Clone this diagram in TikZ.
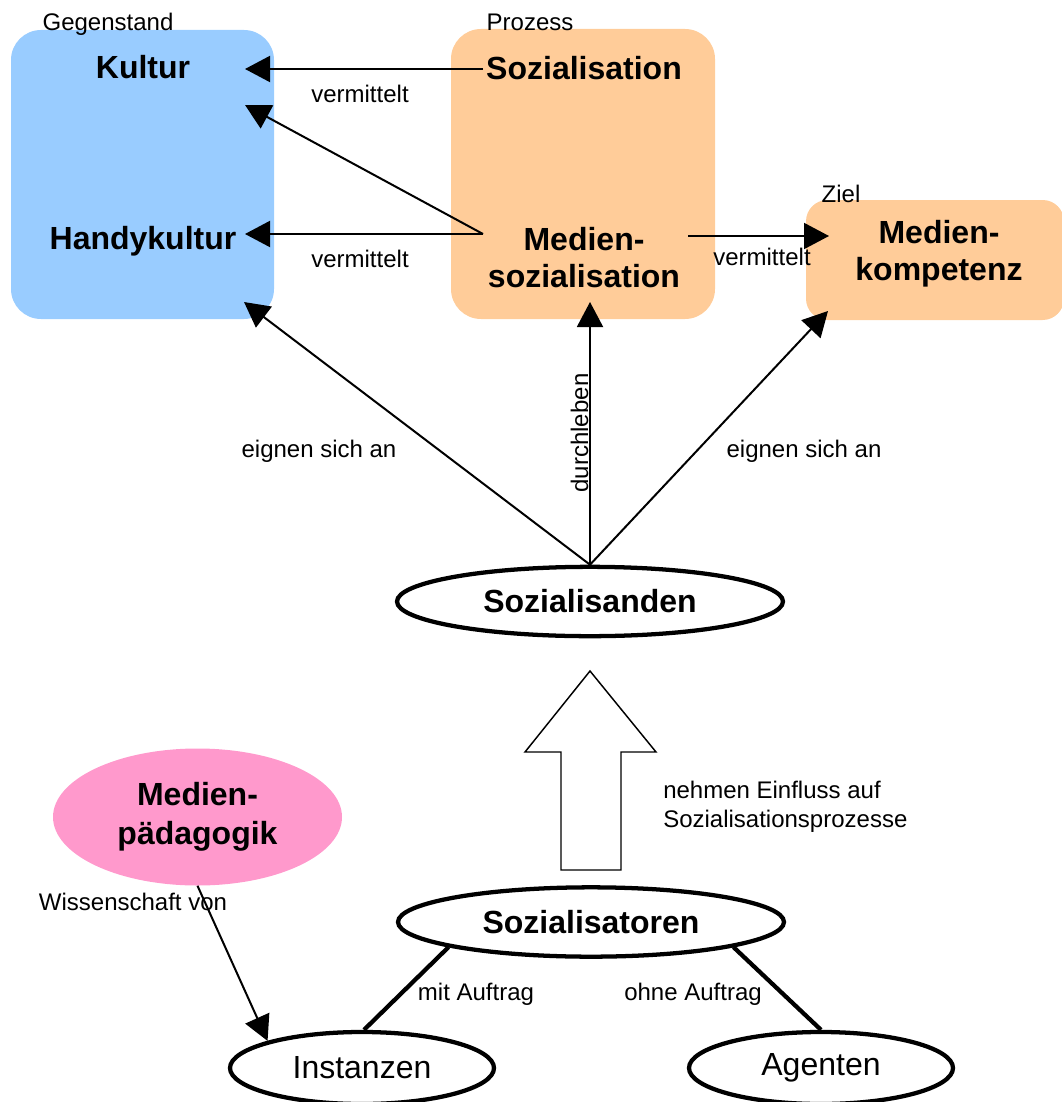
\documentclass[tikz,border=0pt]{standalone}
\usepackage{fontspec}
\setmainfont{Liberation Sans}
\usetikzlibrary{shapes.geometric,arrows.meta}
\definecolor{gblue}{HTML}{99CCFF}
\definecolor{porange}{HTML}{FFCC99}
\definecolor{mpink}{HTML}{FF99CC}
\begin{document}
\begin{tikzpicture}[x=0.75pt,y=-0.75pt,
  big/.style={font=\fontsize{24}{28}\selectfont\bfseries, inner sep=0pt},
  norm/.style={font=\fontsize{24}{28}\selectfont, inner sep=0pt},
  small/.style={font=\fontsize{18}{21.75}\selectfont, inner sep=0pt},
  area/.style={rounded corners=22.5pt, inner sep=0pt},
  oval/.style={ellipse, draw, line width=3.2pt, fill=white, inner sep=0pt,
               font=\fontsize{24}{28}\selectfont},
  arr/.style={line width=1.5pt, -{Triangle[length=18.75pt,width=19.5pt]}},
  heavyline/.style={line width=3.2pt}
]
\useasboundingbox (0,0) rectangle (1062,1102);

% areas
\node[area, fill=gblue, minimum width=197.25pt, minimum height=216.75pt] (boxG) at (142.5,174.5) {};
\node[area, fill=porange, minimum width=198pt, minimum height=217.5pt] (boxP) at (583,174) {};
\node[area, fill=porange, rounded corners=16pt, minimum width=193.5pt, minimum height=90pt] (boxZ) at (935,260) {};

% area captions
\node[small, anchor=base] (lblG) at (108,31) {Gegenstand};
\node[small, anchor=base] (lblP) at (530,31) {Prozess};
\node[small, anchor=base] (lblZ) at (841,202) {Ziel};

% texts in areas
\node[big, anchor=base] (kultur) at (143,78.5) {Kultur};
\node[big, anchor=base] (handy) at (143,249) {Handykultur};
\node[big, anchor=base] (sozial) at (584,79.5) {Sozialisation};
\node[big, align=center] (medsoz) at (584,257.5) {Medien-\\sozialisation};
\node[big, align=center] (medkomp) at (939,254) {Medien-\\kompetenz};

% connector end points
\coordinate (sOut) at (483,69);
\coordinate (kIn) at (245,69);
\coordinate (mOut) at (483,234);
\coordinate (kIn2) at (245,105);
\coordinate (hIn) at (245,234);
\coordinate (mOutR) at (688,236);
\coordinate (zIn) at (829,236);
\coordinate (gIn) at (244,302);
\coordinate (pIn) at (590,302);
\coordinate (zIn2) at (828,311);

\draw[arr] (sOut) -- (kIn);
\draw[arr] (mOut) -- (kIn2);
\draw[arr] (mOut) -- (hIn);
\draw[arr] (mOutR) -- (zIn);

\node[small, anchor=base] (v1) at (360,103) {vermittelt};
\node[small, anchor=base] (v2) at (360,267) {vermittelt};
\node[small, anchor=base] (v3) at (762,265) {vermittelt};

% Sozialisanden
\node[oval, font=\fontsize{24}{28}\selectfont\bfseries, minimum width=289.5pt, minimum height=52pt] (sozand) at (590,601.5) {Sozialisanden};

\draw[arr] (sozand.north) -- (gIn);
\draw[arr] (sozand.north) -- (pIn);
\draw[arr] (sozand.north) -- (zIn2);

\node[small, anchor=base] (e1) at (319,457) {eignen sich an};
\node[small, anchor=base] (e2) at (804,457) {eignen sich an};
\node[small, rotate=90, anchor=base] (durch) at (588,433) {durchleben};

% big hollow arrow
\draw[line width=1.1pt, fill=white, line join=miter]
  (590,671) -- (656,752) -- (621,752) -- (621,870) -- (561,870) -- (561,752) -- (525,752) -- cycle;
\node[small, align=left, anchor=north west] (einfl) at (663,780.5) {nehmen Einfluss auf\\Sozialisationsprozesse};

% Medienpaedagogik
\node[ellipse, fill=mpink, inner sep=0pt, minimum width=216.75pt, minimum height=102.75pt,
      font=\fontsize{24}{29.25}\selectfont\bfseries, align=center] (medped) at (197.5,817) {Medien-\\pädagogik};

% Sozialisatoren and below
\node[oval, font=\fontsize{24}{28}\selectfont\bfseries, minimum width=289.5pt, minimum height=52pt] (sozator) at (591,922) {Sozialisatoren};
\node[oval, minimum width=198pt, minimum height=54pt] (inst) at (362,1068) {Instanzen};
\node[oval, minimum width=198pt, minimum height=54pt] (agent) at (821,1068) {Agenten};

\draw[heavyline] (sozator.190) -- (inst.87);
\draw[heavyline] (sozator.350) -- (agent.90);
\draw[arr] (medped.south) -- (inst.164);

\node[small, anchor=base] (wiss) at (133,910) {Wissenschaft von};
\node[small, anchor=base] (mit) at (476,1000) {mit Auftrag};
\node[small, anchor=base] (ohne) at (693,1000) {ohne Auftrag};
\end{tikzpicture}
\end{document}
